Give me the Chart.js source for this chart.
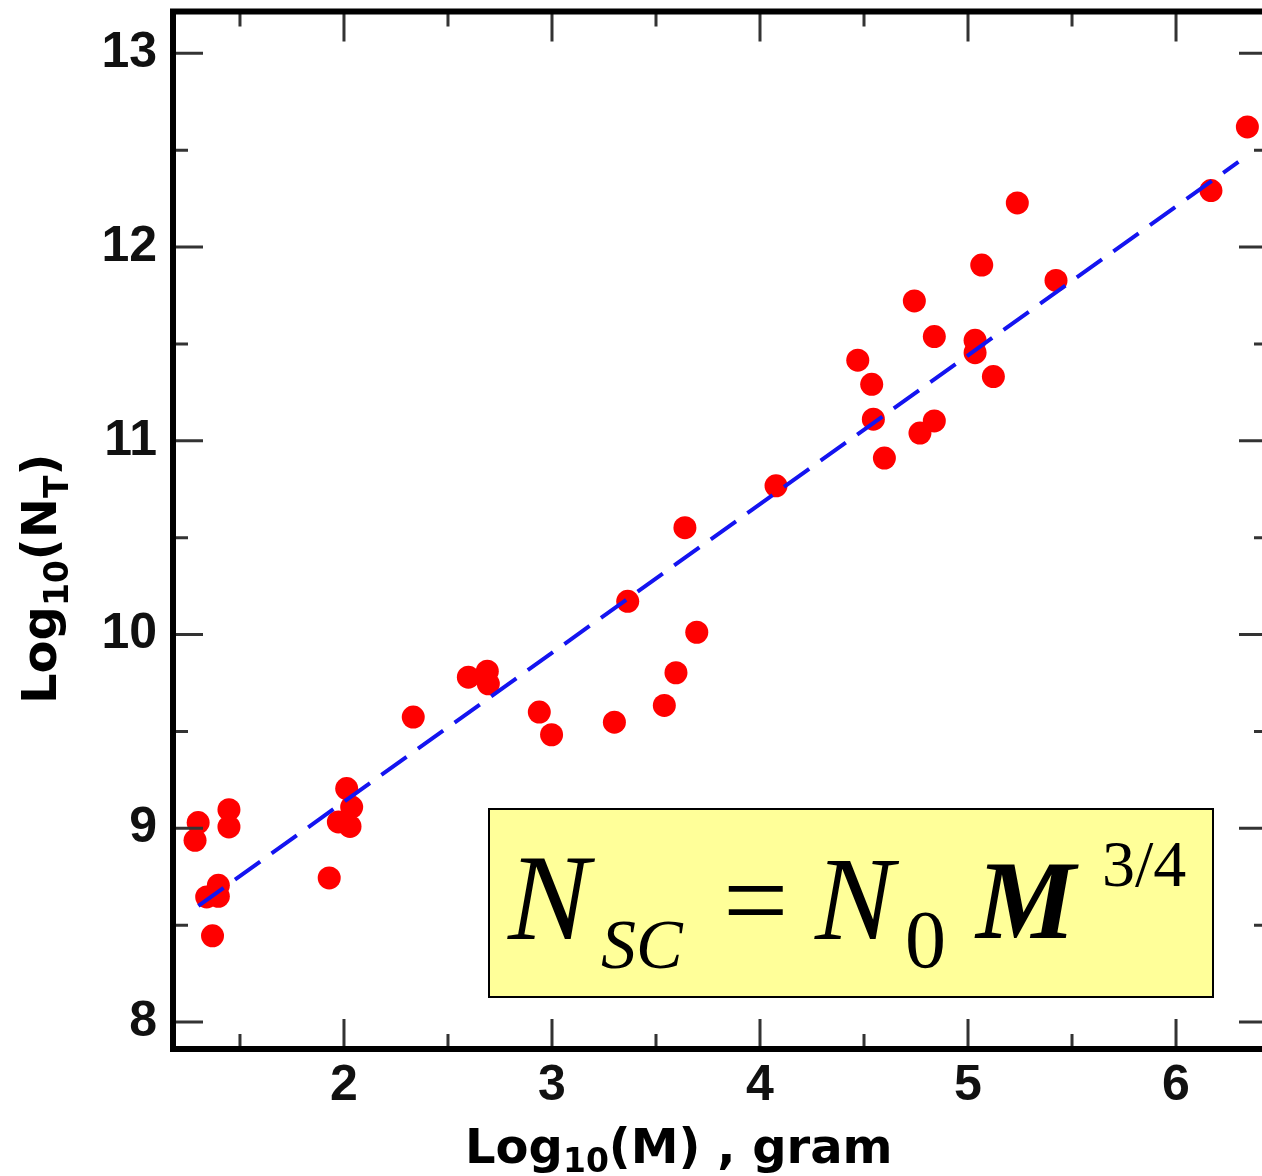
<!DOCTYPE html>
<html>
<head>
<meta charset="utf-8">
<script src="https://cdn.jsdelivr.net/npm/chart.js@4.4.1/dist/chart.umd.min.js"></script>
<style>
  html, body { margin: 0; padding: 0; background: #fff; overflow: hidden; }
  #wrap { position: relative; width: 1290px; height: 1176px; }
</style>
</head>
<body>
<div id="wrap"><canvas id="chart" width="1290" height="1176"></canvas></div>
<script>
// log10 of body mass (gram) and log10 of total cell count
const logMass = [
  1.284, 1.299, 1.447, 1.447, 1.340, 1.396, 1.396, 1.368,
  2.013, 2.037, 1.973, 2.029, 1.929,
  2.333, 2.598, 2.689, 2.694, 2.939, 2.998, 3.300, 3.364, 3.540, 3.596, 3.696,
  3.639, 4.077,
  4.470, 4.537, 4.545, 4.598, 4.742, 4.838, 4.769, 4.838, 5.034, 5.034, 5.122,
  5.066, 5.237, 5.423, 6.168, 6.343
];
const logCount = [
  8.938, 9.030, 9.096, 9.007, 8.646, 8.706, 8.649, 8.445,
  9.205, 9.110, 9.033, 9.010, 8.744,
  9.574, 9.780, 9.811, 9.746, 9.600, 9.483, 9.548, 10.172, 9.634, 9.803, 10.012,
  10.552, 10.768,
  11.416, 11.292, 11.112, 10.911, 11.722, 11.538, 11.040, 11.103, 11.519, 11.455, 11.332,
  11.907, 12.228, 11.828, 12.292, 12.620
];
// dashed fit line end points
const fitMass = [1.30, 6.30];
const fitCount = [8.60, 12.44];

const xTicks = [2, 3, 4, 5, 6];
const xMinor = [1.5, 2.5, 3.5, 4.5, 5.5];
const yTicks = [8, 9, 10, 11, 12, 13];
const yMinor = [8.5, 9.5, 10.5, 11.5, 12.5];

const xTitleParts = [["Log", false], ["10", true], ["(M) , gram", false]];
const yTitleParts = [["Log", false], ["10", true], ["(N", false], ["T", true], [")", false]];

function drawRuns(ctx, parts, x0, y0, size, subSize, subDrop) {
  let x = x0;
  parts.forEach(([txt, sub]) => {
    ctx.font = "bold " + (sub ? subSize : size) + "px 'DejaVu Sans'";
    ctx.fillText(txt, x, sub ? y0 + subDrop : y0);
    x += ctx.measureText(txt).width;
  });
}

const decor = {
  id: "decor",
  afterDraw(chart) {
    const { ctx, chartArea: a, scales: { x, y } } = chart;
    ctx.save();

    // inward tick marks on all four sides
    ctx.strokeStyle = "#333";
    ctx.lineWidth = 3;
    ctx.beginPath();
    xTicks.concat(xMinor).forEach(v => {
      const px = x.getPixelForValue(v);
      const len = xTicks.includes(v) ? 30 : 15;
      ctx.moveTo(px, a.bottom); ctx.lineTo(px, a.bottom - len);
      ctx.moveTo(px, a.top); ctx.lineTo(px, a.top + len);
    });
    yTicks.concat(yMinor).forEach(v => {
      const py = y.getPixelForValue(v);
      const len = yTicks.includes(v) ? 30 : 15;
      ctx.moveTo(a.left, py); ctx.lineTo(a.left + len, py);
      ctx.moveTo(a.right, py); ctx.lineTo(a.right - len, py);
    });
    ctx.stroke();

    // frame
    ctx.strokeStyle = "#000";
    ctx.lineWidth = 6;
    ctx.strokeRect(a.left, a.top, a.right - a.left, a.bottom - a.top);

    // axis titles
    ctx.fillStyle = "#000";
    ctx.textAlign = "left";
    ctx.textBaseline = "alphabetic";
    drawRuns(ctx, xTitleParts, 465, 1163, 48, 33, 9);
    ctx.save();
    ctx.translate(56, 704);
    ctx.rotate(-Math.PI / 2);
    drawRuns(ctx, yTitleParts, 0, 0, 48, 33, 12);
    ctx.restore();

    // formula box
    ctx.fillStyle = "#ffff99";
    ctx.fillRect(489, 809, 724, 188);
    ctx.strokeStyle = "#000";
    ctx.lineWidth = 2;
    ctx.strokeRect(489, 809, 724, 188);
    ctx.fillStyle = "#000";
    ctx.font = "italic 122px 'Liberation Serif'";
    ctx.fillText("N", 508, 939);
    ctx.font = "italic 70px 'Liberation Serif'";
    ctx.fillText("SC", 601, 968);
    ctx.font = "116px 'Liberation Serif'";
    ctx.fillText("=", 723, 939);
    ctx.font = "italic 118px 'Liberation Serif'";
    ctx.fillText("N", 815, 939);
    ctx.font = "82px 'Liberation Serif'";
    ctx.fillText("0", 905, 967);
    ctx.font = "bold italic 112px 'Liberation Serif'";
    ctx.fillText("M", 976, 938);
    ctx.font = "66px 'Liberation Serif'";
    ctx.fillText("3/4", 1102, 886);

    ctx.restore();
  }
};

const tickFont = { family: "'Liberation Sans', Arial, sans-serif", size: 50, weight: "bold" };

new Chart(document.getElementById("chart"), {
  type: "scatter",
  data: {
    datasets: [
      {
        type: "line",
        data: fitMass.map((m, i) => ({ x: m, y: fitCount[i] })),
        borderColor: "#1414f0",
        borderWidth: 4,
        borderDash: [31, 14],
        pointRadius: 0,
        fill: false,
      },
      {
        data: logMass.map((m, i) => ({ x: m, y: logCount[i] })),
        backgroundColor: "#ff0000",
        borderWidth: 0,
        pointRadius: 11.5,
      },
    ],
  },
  options: {
    responsive: false,
    animation: false,
    layout: { padding: { top: 10, right: 21, left: 0, bottom: 0 } },
    scales: {
      x: {
        type: "linear",
        min: 1.178,
        max: 6.447,
        afterBuildTicks: (s) => { s.ticks = xTicks.map(v => ({ value: v })); },
        afterFit: (s) => { s.height = 127; s.paddingLeft = 0; s.paddingRight = 0; },
        grid: { display: false, drawTicks: false },
        border: { display: false },
        ticks: { font: tickFont, color: "#111", padding: 7 },
      },
      y: {
        type: "linear",
        min: 7.861,
        max: 13.216,
        afterBuildTicks: (s) => { s.ticks = yTicks.map(v => ({ value: v })); },
        afterFit: (s) => { s.width = 173; s.paddingTop = 0; s.paddingBottom = 0; },
        grid: { display: false, drawTicks: false },
        border: { display: false },
        ticks: { font: tickFont, color: "#111", padding: 16 },
      },
    },
    plugins: {
      legend: { display: false },
      tooltip: { enabled: false },
    },
  },
  plugins: [decor],
});
</script>
</body>
</html>
